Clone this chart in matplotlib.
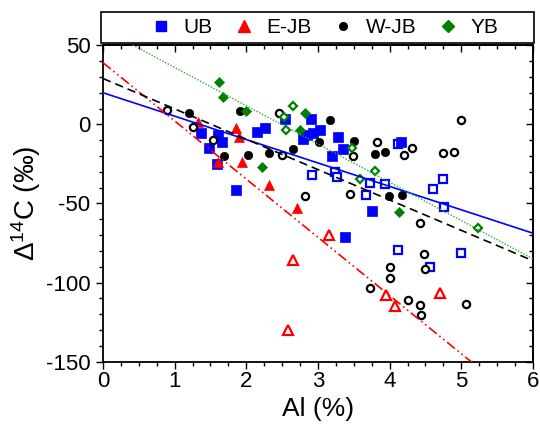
import matplotlib
matplotlib.use("Agg")
import matplotlib.pyplot as plt
from matplotlib.lines import Line2D
from matplotlib.patches import Rectangle
from matplotlib.ticker import MultipleLocator
import numpy as np

plt.rcParams['font.family'] = ['Liberation Sans', 'DejaVu Sans']
plt.rcParams['mathtext.fontset'] = 'custom'
plt.rcParams['mathtext.rm'] = 'Liberation Sans'
plt.rcParams['mathtext.it'] = 'Liberation Sans:italic'
plt.rcParams['mathtext.bf'] = 'Liberation Sans:bold'
plt.rcParams['axes.unicode_minus'] = False

# ---- data ----
ub_fill_x = [1.37, 1.48, 1.60, 1.66, 1.59, 1.86, 2.15, 2.26, 2.54, 2.90, 3.03, 2.93, 2.84, 2.79, 3.28, 3.35, 3.19, 4.16, 3.75, 3.38]
ub_fill_y = [-5.2, -15, -6.7, -11, -25, -41.5, -4.5, -2.5, 3.4, 3.4, -3.5, -5.6, -6.7, -9.4, -8, -15.6, -20.2, -11, -54.5, -71.2]
ub_open_x = [2.92, 3.24, 3.26, 3.72, 3.94, 3.67, 4.11, 4.61, 4.74, 4.76, 4.11, 4.56, 4.99]
ub_open_y = [-32, -30, -33.2, -36.9, -37.7, -44.6, -12.7, -41, -34.8, -52, -79.4, -90.3, -81.5]

ejb_fill_x = [1.32, 1.85, 1.90, 1.60, 1.94, 2.32, 2.71]
ejb_fill_y = [1.2, -2, -8, -23.8, -23.6, -38.6, -53]
ejb_open_x = [2.65, 2.58, 3.16, 3.95, 4.08, 4.70]
ejb_open_y = [-85.7, -130, -69.9, -107.8, -114.6, -106.8]

wjb_fill_x = [1.20, 1.91, 1.69, 2.03, 2.32, 2.65, 3.01, 3.17, 3.50, 3.79, 3.94, 3.99, 4.17]
wjb_fill_y = [7.0, 8.7, -20.3, -19.3, -18.3, -15.4, -11.1, 2.5, -10.2, -19.0, -17.4, -45.4, -44.6]
wjb_open_x = [0.90, 1.26, 1.53, 2.45, 2.50, 2.82, 3.44, 3.49, 3.82, 4.20, 4.31, 4.74, 4.90, 4.99,
              4.42, 4.48, 4.50, 4.01, 4.00, 3.72, 4.26, 4.43, 4.44, 5.06]
wjb_open_y = [8.9, -1.5, -10.1, 6.9, -19.3, -45.1, -44.1, -20.2, -11.3, -19.1, -15.1, -18.3, -17.3, 2.8,
              -62.2, -82.2, -91.4, -90.3, -97.3, -103.2, -111, -114.3, -120.5, -113.3]

yb_fill_x = [1.62, 1.67, 1.99, 2.22, 2.82, 2.75, 4.13]
yb_fill_y = [26.5, 17.6, 8.7, -27.1, 6.9, -3.4, -55.6]
yb_open_x = [2.65, 2.53, 2.56, 3.47, 3.79, 3.58, 5.23]
yb_open_y = [11.8, 4.4, -3.4, -15.1, -29.5, -34.5, -65.7]

# regression lines: intercept, slope
labels = ['UB', 'E-JB', 'W-JB', 'YB']
fit_intercept = [20.0, 39.0, 29.0, 60.2]
fit_slope = [-14.8, -36.8, -19.2, -24.2]

colors = ['#0000FF', '#FF0000', '#000000', '#008000']
markers = ['s', '^', 'o', 'D']
msizes = [7, 7.5, 6, 5]
osizes = [6.2, 6.5, 5.2, 4.5]
leg_sizes = [7.5, 8, 5.5, 6]
line_styles = ['-', (0, (6, 2, 1, 2, 1, 2)), (0, (5, 3)), (0, (1, 1.2))]
line_colors = ['#0000FF', '#FF0000', '#000000', '#33AA33']

fig = plt.figure(figsize=(5.4, 4.26), dpi=100)
ax = fig.add_axes([0.1907, 0.151, 0.7963, 0.7427])

groups = [
    (ub_fill_x, ub_fill_y, ub_open_x, ub_open_y),
    (ejb_fill_x, ejb_fill_y, ejb_open_x, ejb_open_y),
    (wjb_fill_x, wjb_fill_y, wjb_open_x, wjb_open_y),
    (yb_fill_x, yb_fill_y, yb_open_x, yb_open_y),
]

for i, (fx, fy, ox, oy) in enumerate(groups):
    ax.plot(ox, oy, linestyle='none', marker=markers[i], ms=osizes[i], mfc='white',
            mec=colors[i], mew=1.6, zorder=3)
    ax.plot(fx, fy, linestyle='none', marker=markers[i], ms=msizes[i], mfc=colors[i],
            mec=colors[i], mew=0.5, zorder=3)

xl = np.array([0.0, 6.0])
for i in range(4):
    ax.plot(xl, fit_intercept[i] + fit_slope[i] * xl, color=line_colors[i],
            linestyle=line_styles[i], lw=1.2 if i != 3 else 1.0, zorder=4)

ax.set_xlim(0, 6)
ax.set_ylim(-150, 50)
ax.xaxis.set_major_locator(MultipleLocator(1))
ax.xaxis.set_minor_locator(MultipleLocator(0.25))
ax.yaxis.set_major_locator(MultipleLocator(50))
ax.yaxis.set_minor_locator(MultipleLocator(10))
# outward on bottom/left, inward on top/right
ax.tick_params(which='both', direction='out', width=1.0)
ax.tick_params(which='major', length=5, labelsize=16)
ax.tick_params(which='minor', length=3)
ax.tick_params(axis='x', pad=2)
ax.tick_params(axis='y', pad=4)

axt = ax.secondary_xaxis('top')
axt.xaxis.set_major_locator(MultipleLocator(1))
axt.xaxis.set_minor_locator(MultipleLocator(0.25))
axt.tick_params(which='both', direction='in', labeltop=False, width=1.0)
axt.tick_params(which='major', length=5)
axt.tick_params(which='minor', length=3)
axr = ax.secondary_yaxis('right')
axr.yaxis.set_major_locator(MultipleLocator(50))
axr.yaxis.set_minor_locator(MultipleLocator(10))
axr.tick_params(which='both', direction='in', labelright=False, width=1.0)
axr.tick_params(which='major', length=5)
axr.tick_params(which='minor', length=3)
for s in list(ax.spines.values()) + [axt.spines['top'], axr.spines['right']]:
    s.set_linewidth(1.3)

ax.set_xlabel('Al (%)', fontsize=19, labelpad=3)
ax.set_ylabel(r'$\Delta^{14}$C (‰)', fontsize=20, labelpad=2)

# legend box spanning the axes width above the plot
rect = Rectangle((101 / 540, 1 - 43 / 426), (534 - 101) / 540, 31 / 426,
                 transform=fig.transFigure, fill=False, edgecolor='black', lw=1.2)
fig.add_artist(rect)
handles = [Line2D([], [], linestyle='none', marker=markers[i], ms=leg_sizes[i],
                  mfc=colors[i], mec=colors[i]) for i in range(4)]
fig.legend(handles, labels, loc='center', bbox_to_anchor=(0.6006, 1 - 27.5 / 426),
           ncol=4, frameon=False, fontsize=15, columnspacing=0.99, handletextpad=0.6,
           handlelength=1.0)

fig.savefig('out.png', dpi=100)
